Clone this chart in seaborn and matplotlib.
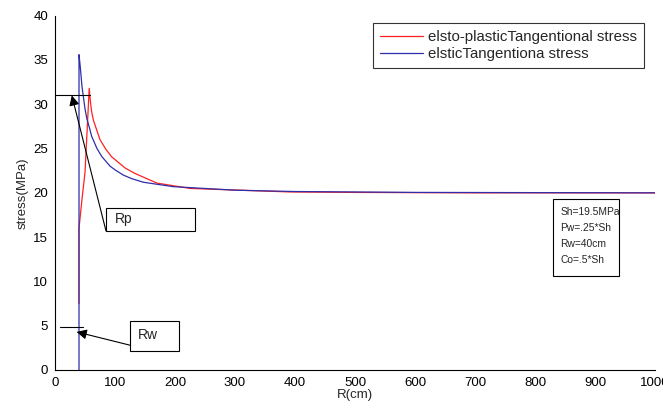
import matplotlib
matplotlib.use("Agg")
import matplotlib.pyplot as plt
from matplotlib.patches import Rectangle
import numpy as np
import pandas as pd
import seaborn as sns

# elasto-plastic tangential stress (red)
r_ep = [40, 40, 45, 50, 53.5, 57, 59, 61, 64, 70, 75, 85, 94, 117, 133, 170, 225, 308, 392, 500, 700, 1000]
s_ep = [7.5, 16.0, 19.3, 22.3, 27.0, 31.8, 30.3, 29.2, 28.2, 27.0, 26.0, 24.9, 24.1, 22.8, 22.2, 21.1, 20.5, 20.3, 20.1, 20.05, 20.0, 20.0]

# elastic tangential stress (blue)
r_el = [40, 40, 42, 45, 50, 53, 58, 61, 70, 78, 92, 100, 114, 128, 147, 197, 300, 400, 600, 1000]
s_el = [0, 35.6, 34.3, 32.0, 29.5, 28.4, 27.2, 26.4, 25.0, 24.1, 23.0, 22.6, 22.0, 21.6, 21.2, 20.7, 20.3, 20.15, 20.05, 20.0]

labels = ["elsto-plasticTangentional stress", "elsticTangentiona stress"]
x_ticks = list(range(0, 1001, 100))
y_ticks = list(range(0, 41, 5))
info_lines = ["Sh=19.5MPa", "Pw=.25*Sh", "Rw=40cm", "Co=.5*Sh"]

sns.set_style("white")
plt.rcParams["font.family"] = ["Liberation Sans", "DejaVu Sans"]

fig = plt.figure(figsize=(6.63, 4.09), dpi=100)
ax = fig.add_axes([55 / 663, 39 / 409, 600 / 663, 354.3 / 409])

df_ep = pd.DataFrame({"r": r_ep, "s": s_ep})
df_el = pd.DataFrame({"r": r_el, "s": s_el})
sns.lineplot(data=df_ep, x="r", y="s", sort=False, estimator=None, color="#ff2020",
             lw=0.9, ax=ax, label=labels[0])
sns.lineplot(data=df_el, x="r", y="s", sort=False, estimator=None, color="#2e2eaa",
             lw=0.9, ax=ax, label=labels[1])

ax.set_xlim(0, 1000)
ax.set_ylim(0, 40)
ax.set_xticks(x_ticks)
ax.set_yticks(y_ticks)
ax.set_xlabel("R(cm)", fontsize=9.5, labelpad=0)
ax.set_ylabel("stress(MPa)", fontsize=9.5, labelpad=3)
for s in ["top", "right"]:
    ax.spines[s].set_visible(False)
for s in ["left", "bottom"]:
    ax.spines[s].set_color("black")
    ax.spines[s].set_linewidth(0.8)
ax.tick_params(direction="in", length=4, width=0.8, labelsize=9.5, colors="black", pad=5)

leg = ax.legend(loc="upper left", bbox_to_anchor=(373 / 663, 1 - 23 / 409),
                bbox_transform=fig.transFigure, fontsize=10.8, frameon=True,
                fancybox=False, handlelength=2.9, handletextpad=0.3,
                borderpad=0.45, labelspacing=0.2, borderaxespad=0)
leg.get_frame().set_edgecolor("black")
leg.get_frame().set_linewidth(0.8)

# Rp annotation
ax.plot([0, 58], [31.1, 31.1], color="black", lw=0.8)
ax.add_patch(Rectangle((85, 15.7), 148, 2.6, fill=False, ec="black", lw=0.8))
ax.text(100, 17.0, "Rp", fontsize=10, va="center", ha="left")
ax.annotate("", xy=(28, 31.0), xytext=(85, 15.7),
            arrowprops=dict(arrowstyle="-|>", color="black", lw=0.8,
                            mutation_scale=15, shrinkA=0, shrinkB=0))

# Rw annotation
ax.plot([8, 47], [4.8, 4.8], color="black", lw=0.8)
ax.add_patch(Rectangle((125, 2.17), 82, 3.39, fill=False, ec="black", lw=0.8))
ax.text(138, 3.9, "Rw", fontsize=10, va="center", ha="left")
ax.annotate("", xy=(36, 4.3), xytext=(125, 2.8),
            arrowprops=dict(arrowstyle="-|>", color="black", lw=0.8,
                            mutation_scale=15, shrinkA=0, shrinkB=0))

# info box
ax.add_patch(Rectangle((830, 10.6), 110, 8.7, fill=False, ec="black", lw=0.8))
for i, t in enumerate(info_lines):
    ax.text(842, 17.8 - i * 1.81, t, fontsize=7.4, va="center", ha="left")

fig.savefig("out.png", dpi=100)
